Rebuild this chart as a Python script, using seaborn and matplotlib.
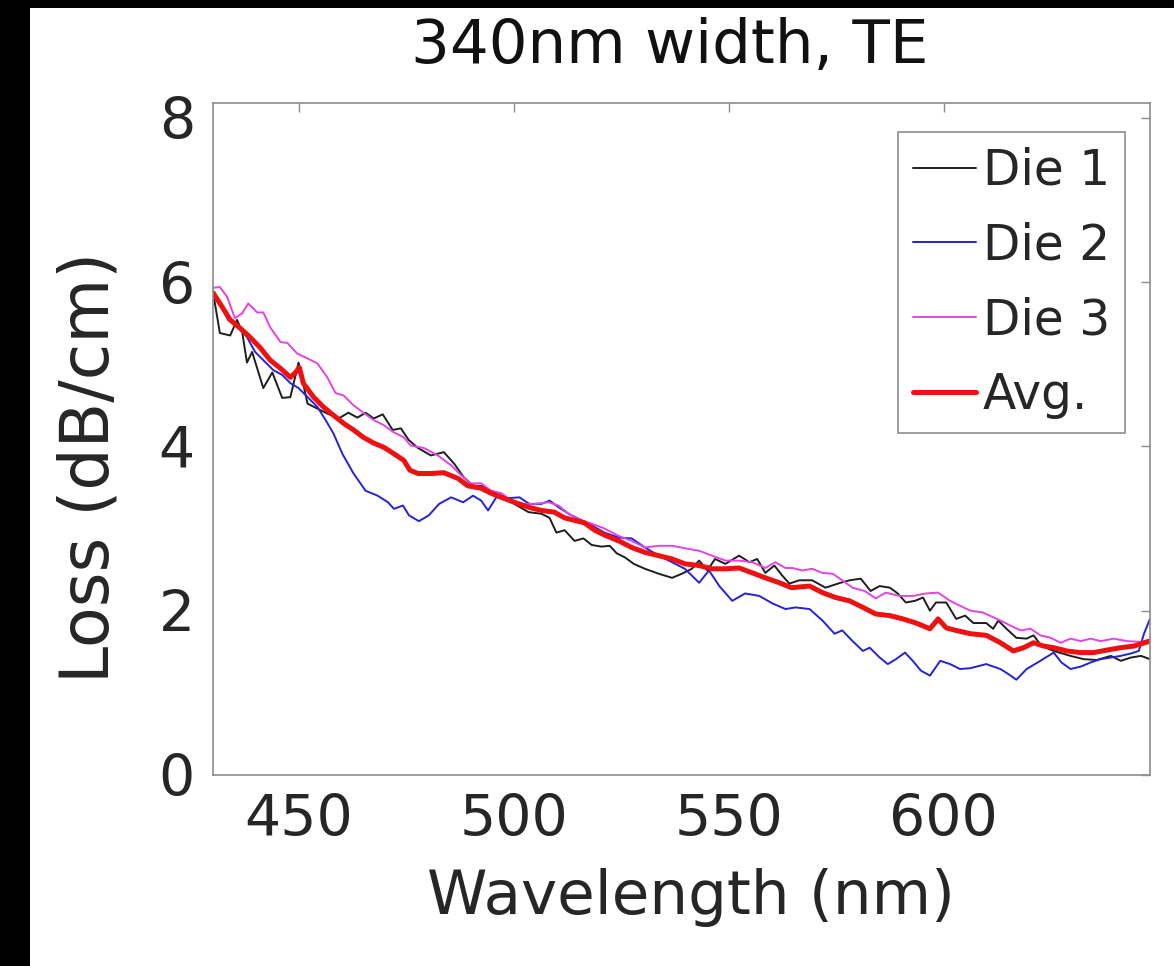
import matplotlib
matplotlib.use("Agg")
import matplotlib.pyplot as plt
from matplotlib.patches import Rectangle
import seaborn as sns

# ▶ Die 1 (black)
wl1 = [430.0, 431.6, 434.0, 435.6, 436.8, 437.9, 439.1, 441.7, 443.8, 446.1,
       448.0, 449.9, 452.0, 454.3, 456.6, 459.2, 461.5, 463.6, 465.5, 467.4,
       469.5, 471.8, 473.7, 475.5, 477.7, 480.7, 483.7, 486.1, 488.4, 490.5,
       492.4, 494.7, 497.1, 500.1, 503.4, 506.4, 508.3, 509.9, 511.8, 514.1,
       516.2, 518.1, 520.4, 522.3, 523.9, 525.8, 527.9, 530.5, 533.7, 536.8,
       539.1, 541.4, 543.1, 545.0, 546.8, 549.2, 552.4, 554.8, 556.6, 558.5,
       560.6, 562.4, 564.1, 566.4, 569.4, 572.5, 576.0, 578.1, 580.7, 583.0,
       585.1, 587.5, 589.3, 591.2, 593.3, 595.2, 596.8, 598.2, 600.6, 602.9,
       605.0, 606.9, 609.9, 611.5, 612.7, 614.6, 616.9, 619.3, 620.9, 622.8,
       625.6, 629.5, 632.6, 635.6, 638.9, 641.2, 643.6, 645.9, 648.0]
die1 = [5.88, 5.38, 5.35, 5.54, 5.39, 5.02, 5.15, 4.71, 4.90, 4.59,
        4.60, 5.02, 4.52, 4.46, 4.40, 4.34, 4.41, 4.35, 4.41, 4.34,
        4.39, 4.20, 4.22, 4.08, 3.98, 3.89, 3.93, 3.79, 3.62, 3.52,
        3.52, 3.46, 3.40, 3.30, 3.20, 3.18, 3.13, 2.95, 2.98, 2.85,
        2.88, 2.80, 2.78, 2.79, 2.70, 2.65, 2.57, 2.51, 2.45, 2.40,
        2.45, 2.51, 2.61, 2.49, 2.63, 2.57, 2.67, 2.59, 2.63, 2.46,
        2.55, 2.43, 2.33, 2.37, 2.37, 2.28, 2.34, 2.37, 2.39, 2.24,
        2.30, 2.28, 2.21, 2.10, 2.12, 2.16, 2.00, 2.10, 2.10, 1.90,
        1.94, 1.85, 1.85, 1.78, 1.88, 1.78, 1.67, 1.66, 1.70, 1.57,
        1.51, 1.45, 1.41, 1.40, 1.45, 1.39, 1.43, 1.45, 1.41]

# ▶ Die 2 (blue)
wl2 = [430.0, 431.6, 433.5, 435.6, 437.9, 439.8, 441.7, 444.0, 446.1, 448.0,
       449.9, 452.2, 454.3, 456.2, 458.0, 460.1, 462.7, 465.5, 468.3, 470.7,
       472.1, 474.2, 475.6, 477.9, 480.2, 482.6, 485.4, 488.2, 490.5, 492.4,
       494.0, 495.9, 498.7, 501.3, 503.6, 506.4, 508.3, 510.4, 512.7, 515.0,
       517.4, 521.1, 524.4, 527.4, 530.5, 533.7, 536.8, 539.8, 543.1, 545.4,
       547.8, 550.8, 553.8, 557.1, 560.1, 563.2, 565.5, 568.8, 571.8, 574.6,
       576.4, 578.8, 581.2, 582.8, 585.1, 587.0, 588.9, 591.0, 592.8, 594.7,
       596.8, 599.2, 601.5, 603.8, 606.2, 609.9, 613.2, 615.0, 616.9, 619.3,
       622.5, 625.6, 627.4, 629.5, 631.9, 634.2, 636.5, 638.9, 641.2, 643.6,
       645.4, 646.6, 648.0]
die2 = [5.82, 5.74, 5.54, 5.48, 5.33, 5.15, 5.05, 4.93, 4.87, 4.77,
        4.71, 4.59, 4.48, 4.32, 4.16, 3.91, 3.67, 3.46, 3.40, 3.32,
        3.24, 3.28, 3.16, 3.09, 3.16, 3.30, 3.38, 3.32, 3.40, 3.34,
        3.22, 3.38, 3.37, 3.38, 3.30, 3.30, 3.34, 3.26, 3.18, 3.12,
        3.06, 2.95, 2.89, 2.88, 2.77, 2.67, 2.59, 2.51, 2.34, 2.49,
        2.30, 2.12, 2.21, 2.18, 2.09, 2.02, 2.04, 2.02, 1.88, 1.72,
        1.76, 1.63, 1.51, 1.55, 1.43, 1.35, 1.41, 1.49, 1.39, 1.27,
        1.21, 1.39, 1.35, 1.29, 1.30, 1.35, 1.29, 1.23, 1.16, 1.29,
        1.39, 1.49, 1.37, 1.29, 1.32, 1.37, 1.41, 1.43, 1.45, 1.48,
        1.51, 1.72, 1.90]

# ▶ Die 3 (magenta)
wl3 = [430.0, 431.6, 433.3, 435.1, 436.8, 438.2, 440.3, 441.7, 443.3, 445.7,
       447.3, 449.6, 452.0, 454.3, 456.6, 458.5, 460.4, 462.7, 465.0, 467.4,
       469.7, 472.1, 474.4, 476.0, 479.1, 482.3, 485.4, 487.7, 490.0, 492.4,
       494.7, 497.1, 499.4, 501.7, 504.8, 508.0, 510.4, 512.7, 515.7, 518.1,
       521.1, 524.4, 527.4, 530.5, 533.7, 536.8, 539.8, 543.1, 546.1, 549.2,
       552.4, 555.5, 558.5, 560.8, 563.2, 564.8, 567.1, 569.4, 571.8, 574.2,
       576.4, 578.8, 581.6, 584.2, 586.5, 589.8, 592.8, 595.9, 598.7, 601.5,
       603.8, 606.2, 609.0, 613.2, 615.5, 617.9, 620.2, 622.5, 624.9, 627.2,
       629.5, 631.9, 634.2, 636.5, 639.6, 642.6, 645.9, 648.0]
die3 = [5.93, 5.94, 5.82, 5.56, 5.62, 5.74, 5.63, 5.63, 5.45, 5.27,
        5.26, 5.13, 5.07, 5.01, 4.84, 4.65, 4.62, 4.50, 4.41, 4.32,
        4.26, 4.17, 4.11, 4.01, 3.98, 3.89, 3.77, 3.65, 3.55, 3.55,
        3.46, 3.43, 3.34, 3.30, 3.30, 3.32, 3.28, 3.18, 3.10, 3.06,
        3.00, 2.91, 2.85, 2.77, 2.79, 2.79, 2.76, 2.73, 2.67, 2.61,
        2.61, 2.59, 2.52, 2.59, 2.52, 2.52, 2.49, 2.51, 2.46, 2.45,
        2.37, 2.28, 2.24, 2.15, 2.22, 2.18, 2.18, 2.21, 2.22, 2.12,
        2.06, 2.00, 1.98, 1.88, 1.82, 1.76, 1.78, 1.70, 1.67, 1.61,
        1.66, 1.63, 1.66, 1.63, 1.66, 1.63, 1.62, 1.65]

# ▶ Avg. (red)
wl_avg = [430.0, 432.1, 434.0, 436.3, 438.6, 441.0, 443.3, 445.7, 448.0, 449.2,
          450.1, 451.0, 453.4, 455.7, 458.0, 460.4, 462.7, 465.0, 467.4, 469.7,
          472.1, 474.4, 475.8, 477.7, 480.7, 483.7, 487.0, 489.3, 492.4, 494.7,
          497.1, 500.1, 503.4, 506.4, 509.4, 511.8, 514.1, 516.4, 518.8, 521.1,
          524.4, 527.4, 530.5, 533.7, 536.8, 539.8, 543.1, 546.1, 549.2, 552.4,
          555.5, 558.5, 561.8, 564.6, 568.8, 571.8, 574.9, 578.1, 581.2, 584.2,
          587.5, 590.5, 593.6, 596.8, 598.7, 600.6, 602.9, 606.2, 609.9, 613.2,
          616.2, 618.6, 620.9, 623.2, 625.6, 628.6, 631.9, 634.9, 637.9, 641.2,
          644.3, 648.0]
avg = [5.87, 5.70, 5.54, 5.44, 5.33, 5.20, 5.05, 4.95, 4.84, 4.90,
       4.96, 4.77, 4.60, 4.48, 4.38, 4.28, 4.20, 4.11, 4.04, 3.99,
       3.91, 3.83, 3.71, 3.67, 3.67, 3.68, 3.61, 3.52, 3.49, 3.43,
       3.38, 3.32, 3.26, 3.22, 3.20, 3.13, 3.10, 3.07, 2.98, 2.92,
       2.85, 2.77, 2.71, 2.67, 2.63, 2.57, 2.55, 2.51, 2.51, 2.52,
       2.46, 2.40, 2.34, 2.28, 2.30, 2.22, 2.16, 2.12, 2.04, 1.96,
       1.94, 1.90, 1.85, 1.78, 1.90, 1.79, 1.76, 1.72, 1.70, 1.61,
       1.51, 1.55, 1.61, 1.57, 1.55, 1.51, 1.49, 1.49, 1.52, 1.55,
       1.57, 1.63]

x_ticks = [450, 500, 550, 600]
y_ticks = [0, 2, 4, 6, 8]

sns.set_style("white")
plt.rcParams["font.family"] = ["DejaVu Sans"]

W, H = 1174, 966
fig = plt.figure(figsize=(W / 100, H / 100), dpi=100, facecolor="black")
# white canvas, with black strips at left and top like the source image
fig.patches.append(Rectangle((30 / W, 0), 1, (H - 8) / H, transform=fig.transFigure,
                             facecolor="white", edgecolor="none", zorder=-1))
ax = fig.add_axes([213 / W, 1 - 775 / H, 937 / W, 672 / H])
ax.set_facecolor("white")

series = [
    (wl1, die1, "Die 1", "#1e1e1e", 1.4),
    (wl2, die2, "Die 2", "#2323d8", 1.4),
    (wl3, die3, "Die 3", "#e244e6", 1.4),
    (wl_avg, avg, "Avg.", "#ee1111", 3.6),
]
for wl, loss, name, color, lw in series:
    sns.lineplot(x=wl, y=loss, color=color, linewidth=lw, label=name,
                 estimator=None, sort=False, ax=ax)

ax.set_xlim(430, 648)
ax.set_ylim(0, 8.18)
ax.set_xticks(x_ticks)
ax.set_yticks(y_ticks)
ax.tick_params(direction="in", length=6.5, width=1, color="#8c8c8c",
               top=True, right=True, labelsize=41, labelcolor="#262626")
ax.tick_params(axis="x", pad=13)
ax.tick_params(axis="y", pad=13)
for s in ax.spines.values():
    s.set_visible(True)
    s.set_color("#8c8c8c")
    s.set_linewidth(1.2)

ax.set_title("340nm width, TE", fontsize=44, x=0.487, y=1.06, pad=0, color="#111111")
ax.set_xlabel("Wavelength (nm)", fontsize=44, color="#262626")
ax.xaxis.set_label_coords(0.51, -0.138)
ax.set_ylabel("Loss (dB/cm)", fontsize=48, color="#262626")
ax.yaxis.set_label_coords(-0.097, 0.458)

leg = ax.legend(loc="upper left", bbox_to_anchor=(898 / W, 1 - 132 / H),
                bbox_transform=fig.transFigure, fontsize=35, frameon=True,
                fancybox=False, edgecolor="#8c8c8c", framealpha=1,
                borderpad=0.3, labelspacing=0.55, handlelength=1.3,
                handletextpad=0.15, borderaxespad=0)
leg.get_frame().set_linewidth(1.2)

fig.savefig("out.png", dpi=100, facecolor=fig.get_facecolor())
